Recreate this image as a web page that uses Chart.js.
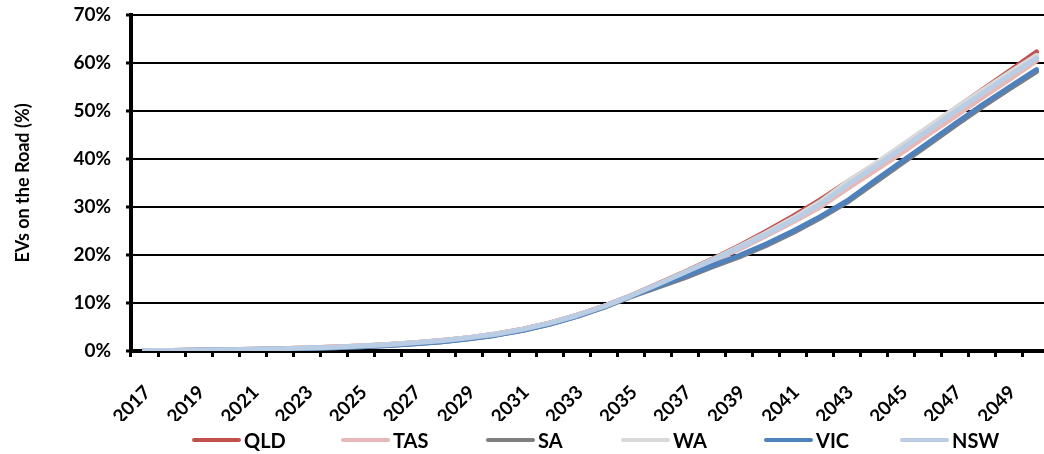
<!DOCTYPE html>
<html>
<head>
<meta charset="utf-8">
<script src="https://cdn.jsdelivr.net/npm/chart.js@4/dist/chart.umd.min.js"></script>
<style>
  html, body { margin: 0; padding: 0; background: #ffffff; overflow: hidden; }
  #wrap { position: relative; width: 1044px; height: 454px; overflow: hidden; }
  canvas { display: block; }
  #legend {
    position: absolute; left: 192px; top: 428px;
    display: flex; align-items: center;
    font-family: Lato, "Open Sans", sans-serif; font-weight: 700; font-size: 20px;
    color: #000; white-space: nowrap; line-height: 24px;
  }
  #legend .item { display: flex; align-items: center; }
  #legend .swatch { width: 49px; height: 4px; border-radius: 2px; margin-right: 3px; }
</style>
</head>
<body>
<div id="wrap">
  <canvas id="chart" width="1050" height="454"></canvas>
  <div id="legend"></div>
</div>
<script>
// Projected share of electric vehicles on the road, by state (%)
const years = [2017, 2018, 2019, 2020, 2021, 2022, 2023, 2024, 2025, 2026, 2027, 2028,
  2029, 2030, 2031, 2032, 2033, 2034, 2035, 2036, 2037, 2038, 2039, 2040,
  2041, 2042, 2043, 2044, 2045, 2046, 2047, 2048, 2049, 2050];

const qld = [0.1, 0.13, 0.18, 0.26, 0.36, 0.48, 0.63, 0.81, 1.04, 1.34, 1.72, 2.18,
  2.78, 3.55, 4.55, 5.85, 7.45, 9.35, 11.55, 14.0, 16.5, 19.1, 21.9, 24.9,
  28.1, 31.5, 35.2, 38.8, 42.6, 46.5, 50.5, 54.4, 58.3, 62.3];
const tas = [0.1, 0.13, 0.18, 0.25, 0.35, 0.47, 0.62, 0.8, 1.03, 1.32, 1.7, 2.15,
  2.75, 3.5, 4.5, 5.8, 7.4, 9.3, 11.5, 13.8, 16.2, 18.7, 21.2, 24.0,
  26.9, 30.0, 33.8, 37.5, 41.2, 45.1, 48.9, 52.8, 56.6, 60.5];
const sa = [0.1, 0.12, 0.16, 0.22, 0.3, 0.4, 0.52, 0.68, 0.88, 1.15, 1.5, 1.95,
  2.55, 3.3, 4.3, 5.6, 7.2, 9.1, 11.3, 13.3, 15.3, 17.5, 19.6, 22.0,
  24.7, 27.7, 31.0, 35.0, 39.0, 43.0, 47.0, 50.9, 54.6, 58.2];
const wa = [0.1, 0.13, 0.18, 0.25, 0.35, 0.47, 0.62, 0.8, 1.03, 1.32, 1.7, 2.15,
  2.75, 3.5, 4.5, 5.8, 7.4, 9.3, 11.5, 13.9, 16.4, 19.0, 21.7, 24.6,
  27.7, 31.1, 35.2, 38.9, 42.8, 46.7, 50.6, 54.3, 58.0, 61.6];
const vic = [0.1, 0.12, 0.16, 0.22, 0.3, 0.4, 0.52, 0.68, 0.88, 1.15, 1.5, 1.95,
  2.55, 3.3, 4.3, 5.6, 7.2, 9.2, 11.4, 13.5, 15.6, 17.8, 19.9, 22.3,
  25.0, 28.0, 31.3, 35.4, 39.4, 43.4, 47.4, 51.3, 55.0, 58.6];
const nsw = [0.1, 0.13, 0.18, 0.25, 0.35, 0.47, 0.62, 0.8, 1.03, 1.32, 1.7, 2.15,
  2.75, 3.5, 4.5, 5.8, 7.4, 9.3, 11.5, 13.9, 16.4, 18.9, 21.5, 24.3,
  27.3, 30.6, 34.6, 38.3, 42.1, 46.0, 49.9, 53.7, 57.4, 61.0];

const yTicks = [0, 10, 20, 30, 40, 50, 60, 70];

const FONT = 'Lato, "Open Sans", sans-serif';

function series(label, data, color) {
  return {
    label: label,
    data: data,
    borderColor: color,
    backgroundColor: color,
    borderWidth: 5,
    pointRadius: 0,
    tension: 0,
    fill: false,
    borderCapStyle: 'round',
    borderJoinStyle: 'round'
  };
}

// First dataset is painted last (on top); the legend lists them in reverse: QLD ... NSW.
const datasets = [
  series('NSW', nsw, '#B9CDE5'),
  series('VIC', vic, '#4F81BD'),
  series('WA', wa, '#D9D9D9'),
  series('SA', sa, '#7F7F7F'),
  series('TAS', tas, '#E6B9B8'),
  series('QLD', qld, '#C0504D')
];

// Legend built as HTML from the chart's datasets (fixed slot width per entry)
const legendSlots = [149, 145, 135, 143, 136, 0];
const htmlLegend = {
  id: 'htmlLegend',
  afterUpdate(chart) {
    const box = document.getElementById('legend');
    box.innerHTML = '';
    chart.data.datasets.slice().reverse().forEach((ds, i) => {
      const item = document.createElement('div');
      item.className = 'item';
      if (legendSlots[i]) item.style.width = legendSlots[i] + 'px';
      const sw = document.createElement('span');
      sw.className = 'swatch';
      sw.style.background = ds.borderColor;
      const tx = document.createElement('span');
      tx.textContent = ds.label;
      item.appendChild(sw);
      item.appendChild(tx);
      box.appendChild(item);
    });
  }
};

new Chart(document.getElementById('chart'), {
  type: 'line',
  data: { labels: years, datasets: datasets },
  plugins: [htmlLegend],
  options: {
    responsive: false,
    animation: false,
    layout: { padding: { top: 15, left: 0, right: 0, bottom: 33 } },
    plugins: {
      tooltip: { enabled: false },
      legend: { display: false }
    },
    scales: {
      x: {
        offset: true,
        afterFit(scale) {
          scale.height = 70;
          scale.paddingLeft = 0;
          scale.paddingRight = 0;
        },
        border: { display: true, color: '#000000', width: 4 },
        grid: {
          offset: true,
          drawOnChartArea: false,
          drawTicks: true,
          tickLength: 6,
          tickWidth: 3,
          tickColor: '#000000'
        },
        ticks: {
          autoSkip: false,
          maxRotation: 45,
          minRotation: 45,
          padding: 24,
          labelOffset: 3,
          color: '#000000',
          font: { family: FONT, size: 19, weight: 'bold' },
          callback(value, index) {
            return index % 2 === 0 ? String(years[index]) : '';
          }
        }
      },
      y: {
        min: 0,
        max: 70,
        afterFit(scale) {
          scale.width = 131;
          scale.paddingTop = 0;
          scale.paddingBottom = 0;
        },
        afterBuildTicks(scale) { scale.ticks = yTicks.map(v => ({ value: v })); },
        border: { display: true, color: '#000000', width: 4 },
        grid: {
          color: '#000000',
          lineWidth: 2,
          drawTicks: true,
          tickLength: 5,
          tickWidth: 3,
          tickColor: '#000000'
        },
        ticks: {
          padding: 15,
          color: '#000000',
          font: { family: FONT, size: 19, weight: 'bold' },
          callback(value) { return value + '%'; }
        },
        title: {
          display: true,
          text: 'EVs on the Road (%)',
          color: '#000000',
          font: { family: FONT, size: 18, weight: 'bold' },
          padding: { top: 12, bottom: 0 }
        }
      }
    }
  }
});
</script>
</body>
</html>
